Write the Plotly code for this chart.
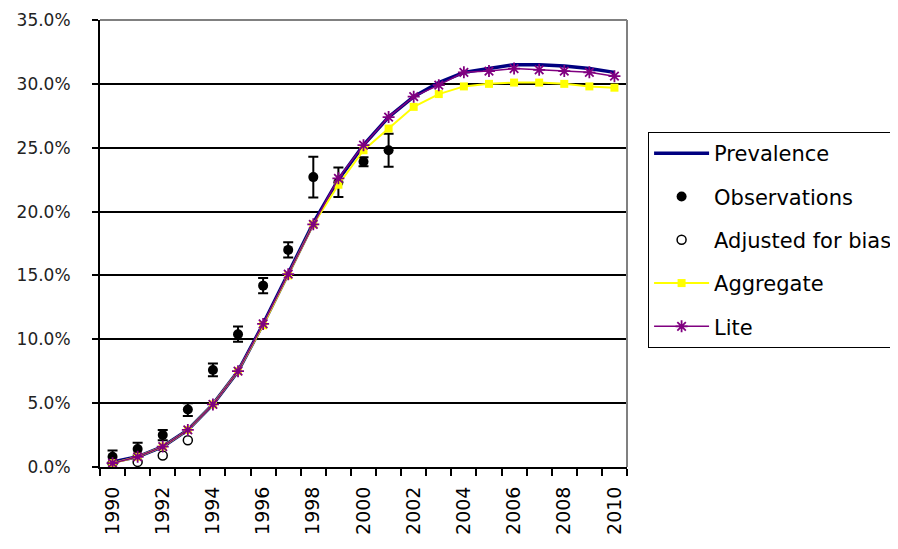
import plotly.graph_objects as go

years = list(range(1990, 2011))
prevalence = [0.4, 0.8, 1.6, 2.9, 4.9, 7.5, 11.2, 15.1, 19.1, 22.5, 25.2, 27.4, 29.0, 30.1,
              30.9, 31.2, 31.5, 31.5, 31.4, 31.2, 30.9]
lite = [0.3, 0.8, 1.6, 2.9, 4.9, 7.5, 11.2, 15.1, 19.0, 22.6, 25.2, 27.4, 29.0, 29.9,
        30.9, 31.0, 31.2, 31.1, 31.0, 30.9, 30.6]
aggregate = [0.3, 0.8, 1.6, 2.9, 4.9, 7.5, 11.1, 15.0, 19.0, 22.1, 24.8, 26.5, 28.2, 29.2,
             29.8, 30.0, 30.1, 30.1, 30.0, 29.8, 29.7]
obs_years = list(range(1990, 2002))
observations = [0.8, 1.4, 2.5, 4.5, 7.6, 10.4, 14.2, 17.0, 22.7, 22.3, 23.9, 24.8]
obs_err = [0.5, 0.5, 0.4, 0.5, 0.5, 0.6, 0.6, 0.6, 1.6, 1.15, 0.35, 1.3]
adj_years = [1990, 1991, 1992, 1993]
adjusted = [0.3, 0.4, 0.9, 2.1]
tick_years = list(range(1990, 2011, 2))
y_ticks = [0, 5, 10, 15, 20, 25, 30, 35]

FONT = "DejaVu Sans"

fig = go.Figure()
fig.add_trace(go.Scatter(x=years, y=prevalence, name="Prevalence", mode="lines",
                         line=dict(color="#000080", width=3.5), legendgroup="a"))
fig.add_trace(go.Scatter(x=obs_years, y=observations, name="Observations", mode="markers",
                         marker=dict(color="black", size=10, symbol="circle"),
                         error_y=dict(type="data", array=obs_err, color="black",
                                      thickness=2, width=5),
                         legendgroup="b"))
fig.add_trace(go.Scatter(x=adj_years, y=adjusted, name="Adjusted for bias", mode="markers",
                         marker=dict(color="white", size=9, symbol="circle",
                                     line=dict(color="black", width=1.5)),
                         legendgroup="c"))
fig.add_trace(go.Scatter(x=years, y=aggregate, name="Aggregate", mode="lines+markers",
                         line=dict(color="#FFFF00", width=2),
                         marker=dict(color="#FFFF00", size=8, symbol="square"),
                         legendgroup="d"))
fig.add_trace(go.Scatter(x=years, y=lite, name="Lite", mode="lines+markers",
                         line=dict(color="#800080", width=1.5),
                         marker=dict(color="#800080", size=10, symbol="asterisk-open",
                                     line=dict(color="#8B1060", width=1.8)),
                         legendgroup="e"))

fig.update_layout(
    width=890, height=541,
    margin=dict(l=92, r=271, t=12, b=82, autoexpand=False),
    paper_bgcolor="white", plot_bgcolor="white",
    font=dict(family=FONT, color="black"),
    showlegend=True,
    legend=dict(x=1.04, xanchor="left", y=0.7494, yanchor="top",
                bordercolor="black", borderwidth=1, bgcolor="white",
                font=dict(family=FONT, size=21, color="black"),
                traceorder="grouped", tracegroupgap=13, itemwidth=55),
    xaxis=dict(range=[1989.5, 2010.5], tickmode="array", tickvals=tick_years,
               ticktext=[str(y) for y in tick_years], tickangle=-90,
               ticks="", showgrid=False, zeroline=False,
               showline=True, linecolor="black", linewidth=2,
               tickfont=dict(family=FONT, size=19, color="black"),
               ticklabelstandoff=10,
               minor=dict(tick0=1989.5, dtick=1, ticks="outside", ticklen=7,
                          tickcolor="black", tickwidth=2, showgrid=False)),
    yaxis=dict(range=[0, 35], tickmode="array", tickvals=y_ticks,
               ticktext=[f"{v:.1f}%" for v in y_ticks],
               ticks="outside", ticklen=6, tickcolor="black", tickwidth=2,
               showgrid=True, gridcolor="black", gridwidth=2,
               zeroline=False, showline=True, linecolor="black", linewidth=2,
               tickfont=dict(family=FONT, size=17, color="#222222"),
               ticklabelstandoff=18),
    shapes=[
        dict(type="line", xref="paper", yref="paper", x0=0, x1=1, y0=1, y1=1,
             line=dict(color="#808080", width=2)),
        dict(type="line", xref="paper", yref="paper", x0=1, x1=1, y0=0, y1=1,
             line=dict(color="#808080", width=2)),
    ],
)

fig.write_html("out.html")
